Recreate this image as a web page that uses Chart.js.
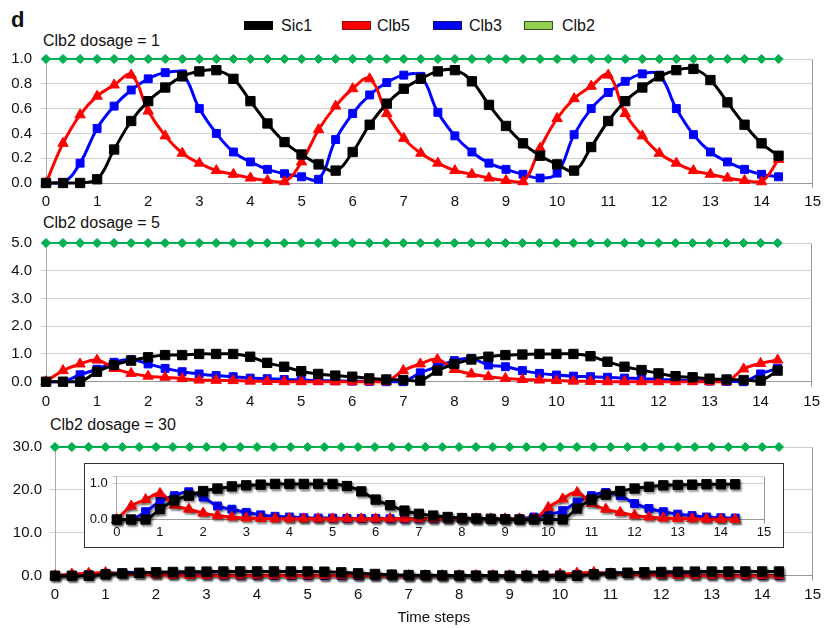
<!DOCTYPE html>
<html>
<head>
<meta charset="utf-8">
<script src="https://cdn.jsdelivr.net/npm/chart.js@4.4.1/dist/chart.umd.min.js"></script>
<style>
  html, body { margin: 0; padding: 0; background: #fff; }
  body { width: 826px; height: 628px; position: relative; overflow: hidden;
         font-family: "Liberation Sans", Arial, Helvetica, sans-serif; color: #111; }
  .pane { position: absolute; }
  .txt { position: absolute; line-height: 1; white-space: nowrap; }
  .lgbox { position: absolute; width: 27px; height: 7px; border: 1px solid; }
  #inset { position: absolute; left: 84px; top: 463px; width: 700px; height: 85px;
           box-sizing: border-box; border: 1.5px solid #333; background: #fff; }
</style>
</head>
<body>

<div class="txt" style="left:11px;top:9px;font-size:22px;font-weight:bold;">d</div>

<div class="lgbox" style="left:244px;top:21px;background:#000;border-color:#000;"></div>
<div class="txt" style="left:281px;top:18px;font-size:16px;">Sic1</div>
<div class="lgbox" style="left:342px;top:21px;background:#ff0000;border-color:#8a1010;"></div>
<div class="txt" style="left:377px;top:18px;font-size:16px;">Clb5</div>
<div class="lgbox" style="left:433px;top:21px;background:#0000ff;border-color:#101070;"></div>
<div class="txt" style="left:469px;top:18px;font-size:16px;">Clb3</div>
<div class="lgbox" style="left:524px;top:21px;background:#92d050;border-color:#3c4a30;"></div>
<div class="txt" style="left:562px;top:18px;font-size:16px;">Clb2</div>

<div class="txt" style="left:43px;top:33px;font-size:16px;">Clb2 dosage = 1</div>
<div class="txt" style="left:43px;top:215px;font-size:16px;">Clb2 dosage = 5</div>
<div class="txt" style="left:50px;top:417px;font-size:16px;">Clb2 dosage = 30</div>

<div class="pane" style="left:0;top:30px;width:826px;height:185px;"><canvas id="c1"></canvas></div>
<div class="pane" style="left:0;top:225px;width:826px;height:190px;"><canvas id="c2"></canvas></div>
<div class="pane" style="left:0;top:430px;width:826px;height:198px;"><canvas id="c3"></canvas></div>
<div id="inset"><div class="pane" style="left:0;top:0;width:697px;height:82px;"><canvas id="c4"></canvas></div></div>

<script>
const FONT = '"Liberation Sans", Arial, Helvetica, sans-serif';

// time steps (x)
const timeSteps = [0, 0.333, 0.667, 1, 1.333, 1.667, 2, 2.333, 2.667, 3, 3.333, 3.667, 4, 4.333, 4.667,
  5, 5.333, 5.667, 6, 6.333, 6.667, 7, 7.333, 7.667, 8, 8.333, 8.667, 9, 9.333, 9.667,
  10, 10.333, 10.667, 11, 11.333, 11.667, 12, 12.333, 12.667, 13, 13.333, 13.667, 14, 14.333];
const xTicks = [0, 1, 2, 3, 4, 5, 6, 7, 8, 9, 10, 11, 12, 13, 14, 15];

// Clb2 dosage = 1
const sic1D1 = [0, 0, 0, 0.03, 0.27, 0.50, 0.66, 0.77, 0.86, 0.90, 0.91, 0.84, 0.66, 0.48, 0.33,
  0.23, 0.15, 0.10, 0.25, 0.47, 0.64, 0.76, 0.84, 0.90, 0.91, 0.82, 0.63, 0.46, 0.32, 0.22,
  0.15, 0.10, 0.29, 0.50, 0.66, 0.77, 0.86, 0.91, 0.92, 0.83, 0.65, 0.47, 0.32, 0.22];
const clb5D1 = [0, 0.32, 0.55, 0.70, 0.79, 0.87, 0.58, 0.38, 0.24, 0.16, 0.10, 0.07, 0.04, 0.02, 0.01,
  0.17, 0.43, 0.62, 0.76, 0.84, 0.56, 0.36, 0.24, 0.16, 0.10, 0.07, 0.04, 0.02, 0.01, 0.28,
  0.52, 0.68, 0.78, 0.87, 0.56, 0.38, 0.24, 0.16, 0.10, 0.07, 0.04, 0.02, 0.01, 0.19];
const clb3D1 = [0, 0, 0.16, 0.44, 0.62, 0.75, 0.84, 0.89, 0.88, 0.60, 0.40, 0.25, 0.17, 0.11, 0.075,
  0.05, 0.03, 0.35, 0.56, 0.71, 0.81, 0.87, 0.86, 0.57, 0.38, 0.25, 0.16, 0.11, 0.07, 0.04,
  0.08, 0.39, 0.60, 0.73, 0.82, 0.88, 0.87, 0.60, 0.39, 0.25, 0.17, 0.11, 0.07, 0.05];
const clb2D1 = [1, 1, 1, 1, 1, 1, 1, 1, 1, 1, 1, 1, 1, 1, 1, 1, 1, 1, 1, 1, 1, 1,
  1, 1, 1, 1, 1, 1, 1, 1, 1, 1, 1, 1, 1, 1, 1, 1, 1, 1, 1, 1, 1, 1];
const yTicksD1 = [0, 0.2, 0.4, 0.6, 0.8, 1.0];

// Clb2 dosage = 5
const sic1D5 = [0, 0, 0, 0.36, 0.60, 0.76, 0.88, 0.96, 0.96, 1.0, 1.0, 1.0, 0.90, 0.68, 0.54,
  0.38, 0.28, 0.22, 0.18, 0.12, 0.08, 0.06, 0.04, 0.40, 0.64, 0.80, 0.90, 0.96, 0.98, 1.0,
  1.0, 1.0, 0.92, 0.72, 0.54, 0.42, 0.30, 0.20, 0.16, 0.11, 0.08, 0.06, 0.04, 0.40];
const clb5D5 = [0, 0.40, 0.64, 0.78, 0.48, 0.30, 0.20, 0.16, 0.11, 0.06, 0.05, 0.04, 0.02, 0.01, 0,
  0, 0, 0, 0, 0, 0, 0.40, 0.64, 0.80, 0.44, 0.28, 0.18, 0.12, 0.08, 0.06,
  0.04, 0.02, 0.01, 0, 0, 0, 0, 0, 0, 0, 0, 0.46, 0.66, 0.78];
const clb3D5 = [0, 0, 0.25, 0.45, 0.70, 0.80, 0.64, 0.48, 0.36, 0.28, 0.22, 0.18, 0.13, 0.11, 0.08,
  0.06, 0.04, 0.03, 0.02, 0.01, 0, 0, 0.32, 0.54, 0.76, 0.84, 0.60, 0.54, 0.40, 0.30,
  0.24, 0.20, 0.18, 0.16, 0.13, 0.11, 0.08, 0.06, 0.04, 0.02, 0.01, 0, 0.28, 0.48];
const clb2D5 = [5, 5, 5, 5, 5, 5, 5, 5, 5, 5, 5, 5, 5, 5, 5, 5, 5, 5, 5, 5, 5, 5,
  5, 5, 5, 5, 5, 5, 5, 5, 5, 5, 5, 5, 5, 5, 5, 5, 5, 5, 5, 5, 5, 5];
const yTicksD5 = [0, 1, 2, 3, 4, 5];

// Clb2 dosage = 30 (also shown enlarged in the inset)
const sic1D30 = [0, 0, 0, 0.29, 0.54, 0.67, 0.80, 0.87, 0.93, 0.96, 0.98, 1.0, 1.0, 1.0, 1.0,
  1.0, 0.94, 0.79, 0.56, 0.40, 0.25, 0.16, 0.11, 0.07, 0.04, 0.03, 0.02, 0.01, 0, 0,
  0, 0, 0.31, 0.56, 0.70, 0.80, 0.87, 0.92, 0.96, 0.97, 0.98, 0.99, 0.99, 0.99];
const clb5D30 = [0, 0.38, 0.56, 0.73, 0.40, 0.29, 0.18, 0.11, 0.07, 0.04, 0.03, 0.02, 0.02, 0.02, 0.02,
  0.02, 0.02, 0.02, 0.02, 0.02, 0.02, 0.02, 0.02, 0.02, 0.02, 0.02, 0.02, 0.02, 0.02, 0.02,
  0.34, 0.58, 0.76, 0.45, 0.29, 0.20, 0.12, 0.07, 0.04, 0.03, 0.02, 0.01, 0.01, 0];
const clb3D30 = [0, 0, 0.22, 0.51, 0.67, 0.78, 0.63, 0.38, 0.29, 0.20, 0.13, 0.09, 0.07, 0.05, 0.04,
  0.04, 0.03, 0.03, 0.03, 0.02, 0.02, 0.02, 0.02, 0.02, 0.02, 0.02, 0.02, 0.02, 0.02, 0.07,
  0.14, 0.25, 0.49, 0.67, 0.76, 0.67, 0.45, 0.31, 0.22, 0.15, 0.11, 0.07, 0.05, 0.04];
const clb2D30 = [30, 30, 30, 30, 30, 30, 30, 30, 30, 30, 30, 30, 30, 30, 30, 30, 30, 30, 30, 30, 30, 30,
  30, 30, 30, 30, 30, 30, 30, 30, 30, 30, 30, 30, 30, 30, 30, 30, 30, 30, 30, 30, 30, 30];
const yTicksD30 = [0, 10, 20, 30];
const yTicksInset = [0, 1.0];

const seriesNames = ['Sic1', 'Clb5', 'Clb3', 'Clb2'];

function points(vals) {
  return vals.map((v, i) => ({ x: timeSteps[i], y: v }));
}

function makeDatasets(sic1, clb5, clb3, clb2) {
  let ds = [
    { label: seriesNames[0], data: points(sic1), borderColor: '#000', backgroundColor: '#000',
      pointStyle: 'rect', pointRadius: 6.6, borderWidth: 3 },
    { label: seriesNames[1], data: points(clb5), borderColor: '#ff0000', backgroundColor: '#ff0000',
      pointStyle: 'triangle', pointRadius: 6, borderWidth: 3 },
    { label: seriesNames[2], data: points(clb3), borderColor: '#0000ff', backgroundColor: '#0000ff',
      pointStyle: 'rect', pointRadius: 5.6, borderWidth: 3 }
  ];
  if (clb2) {
    ds.push({ label: seriesNames[3], data: points(clb2), borderColor: '#00b050', backgroundColor: '#00b050',
      pointStyle: 'rectRot', pointRadius: 4.6, borderWidth: 2 });
  }
  ds.forEach(d => {
    d.pointBorderWidth = 1;
    d.pointBorderColor = d.borderColor;
    d.clip = false;
    d.tension = 0.42;
    d.borderJoinStyle = 'round';
  });
  return ds;
}

const edgeOnly = c => (c.tick && c.tick.value === 15) ? '#999' : 'rgba(0,0,0,0)';

// drop shadow under the markers of the third panel
const shadowPlugin = {
  id: 'shadow',
  beforeDatasetDraw(chart, args) {
    if (args.meta.label === 'Clb2') return;
    const ctx = chart.ctx;
    ctx.save();
    ctx.shadowColor = 'rgba(0,0,0,0.4)';
    ctx.shadowOffsetX = 1.5;
    ctx.shadowOffsetY = 2;
    ctx.shadowBlur = 2;
  },
  afterDatasetDraw(chart, args) {
    if (args.meta.label === 'Clb2') return;
    chart.ctx.restore();
  }
};

function options(cfg) {
  return {
    responsive: true,
    maintainAspectRatio: false,
    animation: false,
    layout: { padding: cfg.padding },
    plugins: { legend: { display: false }, tooltip: { enabled: false } },
    scales: {
      x: {
        type: 'linear', min: 0, max: 15,
        afterFit: s => { s.height = cfg.xHeight; },
        afterBuildTicks: s => { s.ticks = xTicks.map(v => ({ value: v })); },
        ticks: { font: { size: cfg.fontSize, family: FONT }, color: '#111', padding: cfg.xPad,
                 maxRotation: 0, autoSkip: false },
        grid: { color: edgeOnly, tickColor: edgeOnly, tickLength: cfg.tick },
        border: { color: '#999' },
        title: cfg.xTitle ? { display: true, text: cfg.xTitle, color: '#111',
                 font: { size: 15, family: FONT }, padding: { top: 0, bottom: 0 } } : { display: false }
      },
      y: {
        min: 0, max: cfg.yMax,
        afterFit: s => { s.width = cfg.yWidth; },
        afterBuildTicks: s => {
          let t = cfg.yTicks.map(v => ({ value: v }));
          if (cfg.yTicks[cfg.yTicks.length - 1] < cfg.yMax) t.push({ value: cfg.yMax });
          s.ticks = t;
        },
        ticks: { font: { size: cfg.fontSize, family: FONT }, color: '#111', padding: cfg.yPad,
                 callback: v => cfg.yTicks.includes(v) ? v.toFixed(1) : '' },
        grid: { color: '#cfcfcf', tickColor: '#cfcfcf', tickLength: cfg.tick },
        border: { color: '#aaa' }
      }
    }
  };
}

new Chart(document.getElementById('c1'), {
  type: 'line',
  data: { datasets: makeDatasets(sic1D1, clb5D1, clb3D1, clb2D1) },
  options: options({ padding: { top: 29, right: 12, bottom: 4, left: 0 }, xHeight: 28, yWidth: 46,
    yMax: 1, yTicks: yTicksD1, fontSize: 15, xPad: 5, yPad: 9, tick: 5 })
});

new Chart(document.getElementById('c2'), {
  type: 'line',
  data: { datasets: makeDatasets(sic1D5, clb5D5, clb3D5, clb2D5) },
  options: options({ padding: { top: 17.7, right: 12, bottom: 5.3, left: 0 }, xHeight: 28, yWidth: 46,
    yMax: 5, yTicks: yTicksD5, fontSize: 15, xPad: 6, yPad: 9, tick: 5 })
});

new Chart(document.getElementById('c3'), {
  type: 'line',
  data: { datasets: makeDatasets(sic1D30, clb5D30, clb3D30, clb2D30) },
  options: options({ padding: { top: 15, right: 12, bottom: 1, left: 0 }, xHeight: 51.3, yWidth: 55,
    yMax: 30, yTicks: yTicksD30, fontSize: 15, xPad: 5, yPad: 8, tick: 5, xTitle: 'Time steps' }),
  plugins: [shadowPlugin]
});

new Chart(document.getElementById('c4'), {
  type: 'line',
  data: { datasets: makeDatasets(sic1D30, clb5D30, clb3D30, null) },
  options: options({ padding: { top: 10.5, right: 18, bottom: 4.5, left: 0 }, xHeight: 22, yWidth: 31.8,
    yMax: 1.2, yTicks: yTicksInset, fontSize: 13, xPad: 1, yPad: 5, tick: 4 }),
  plugins: [shadowPlugin]
});
</script>
</body>
</html>
